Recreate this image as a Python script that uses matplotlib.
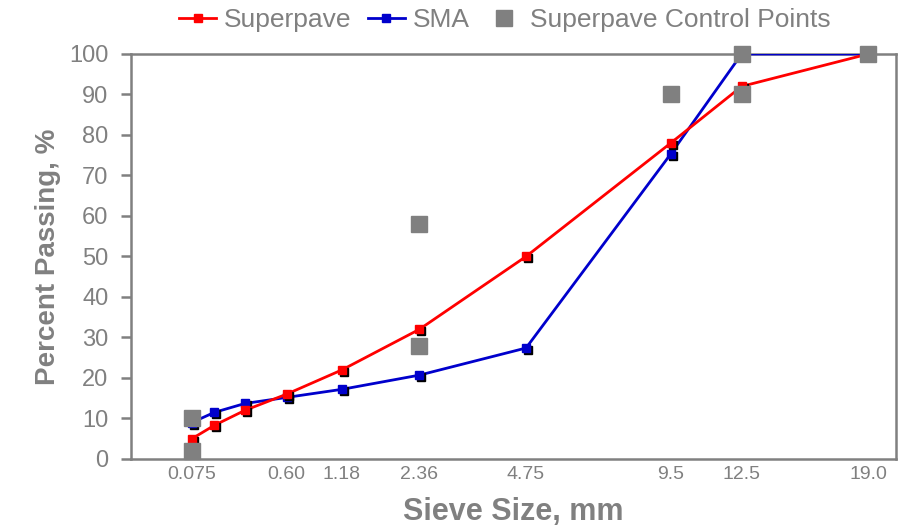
import numpy as np
import matplotlib.pyplot as plt
from matplotlib.lines import Line2D
from matplotlib.transforms import ScaledTranslation

plt.rcParams['font.family'] = ['Liberation Sans', 'DejaVu Sans']

# Data
sieves = [0.075, 0.15, 0.3, 0.6, 1.18, 2.36, 4.75, 9.5, 12.5, 19.0]
superpave = [5, 8.3, 12, 16, 22, 32, 50, 78, 92, 100]
sma = [9, 11.5, 13.7, 15.2, 17.2, 20.7, 27.4, 75.3, 100, 100]
ctrl_x = [0.075, 0.075, 2.36, 2.36, 9.5, 12.5, 12.5, 19.0]
ctrl_y = [2, 10, 28, 58, 90, 90, 100, 100]
tick_pos = [0.075, 0.6, 1.18, 2.36, 4.75, 9.5, 12.5, 19.0]
tick_lab = ['0.075', '0.60', '1.18', '2.36', '4.75', '9.5', '12.5', '19.0']

gray = '#808080'

fig = plt.figure(figsize=(9.02, 5.26), dpi=100)
ax = fig.add_axes([0.145, 0.1274, 0.848, 0.77])

# 0.45 power gradation scale
ax.set_xscale('function', functions=(lambda x: np.power(np.clip(x, 0, None), 0.45),
                                     lambda x: np.power(np.clip(x, 0, None), 1 / 0.45)))

shadow = ax.transData + ScaledTranslation(2 / 100, -2 / 100, fig.dpi_scale_trans)

for vals, col, z in [(sma, '#0000cc', 3), (superpave, '#ff0000', 4)]:
    ax.plot(sieves, vals, color=col, lw=2, zorder=z)
    ax.plot(sieves, vals, ls='none', marker='s', ms=5.5, color='black', transform=shadow, zorder=z)
    ax.plot(sieves, vals, ls='none', marker='s', ms=5.5, color=col, zorder=z)

ax.plot(ctrl_x, ctrl_y, ls='none', marker='s', ms=11, color=gray, zorder=6, clip_on=False)

ax.set_xlim(0, 20.6)
ax.set_ylim(0, 100)
ax.set_yticks(range(0, 101, 10))
ax.set_xticks(tick_pos)
ax.set_xticklabels(tick_lab)
ax.minorticks_off()

for s in ax.spines.values():
    s.set_color(gray)
    s.set_linewidth(1.8)
ax.tick_params(axis='y', colors=gray, labelsize=17, length=7, width=1.8, pad=9)
ax.tick_params(axis='x', colors=gray, labelsize=14, length=0, pad=5)

ax.set_xlabel('Sieve Size, mm', fontsize=22, fontweight='bold', color=gray, labelpad=10)
ax.set_ylabel('Percent Passing, %', fontsize=20, fontweight='bold', color=gray, labelpad=6)

handles = [
    Line2D([], [], color='#ff0000', lw=2, marker='s', ms=5.5),
    Line2D([], [], color='#0000cc', lw=2, marker='s', ms=5.5),
    Line2D([], [], ls='none', color=gray, marker='s', ms=11),
]
fig.legend(handles, ['Superpave', 'SMA', 'Superpave Control Points'], loc='upper center',
           bbox_to_anchor=(0.56, 1.03), ncol=3, frameon=False, fontsize=19,
           labelcolor=gray, handlelength=1.4, handletextpad=0.3, columnspacing=0.6)

fig.savefig('out.png', dpi=100)
